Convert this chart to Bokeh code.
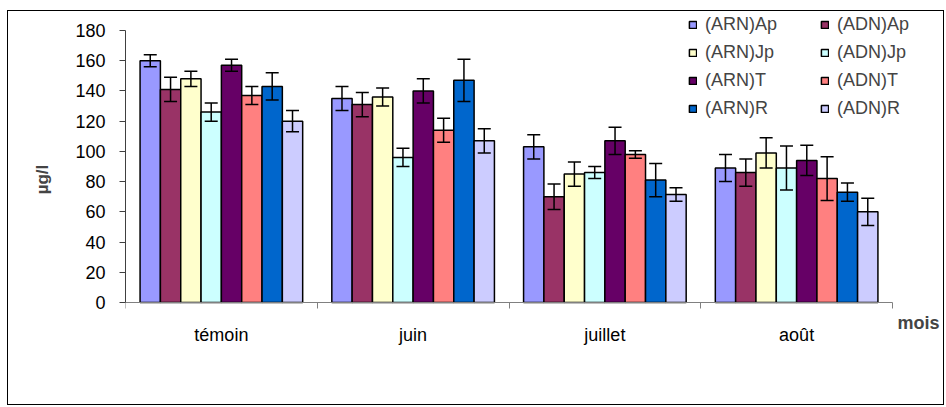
from bokeh.plotting import figure
from bokeh.models import (ColumnDataSource, Range1d, FixedTicker, Legend, LegendItem,
                          Whisker, TeeHead, Label)
from bokeh.embed import file_html
from bokeh.resources import INLINE

# ---------------- data ----------------
months = ["témoin", "juin", "juillet", "août"]
series = ["(ARN)Ap", "(ADN)Ap", "(ARN)Jp", "(ADN)Jp", "(ARN)T", "(ADN)T", "(ARN)R", "(ADN)R"]
colors = ["#9999FF", "#993366", "#FFFFCC", "#CCFFFF", "#660066", "#FF8080", "#0066CC", "#CCCCFF"]

arn_ap = [160, 135, 103, 89]
adn_ap = [141, 131, 70, 86]
arn_jp = [148, 136, 85, 99]
adn_jp = [126, 96, 86, 89]
arn_t = [157, 140, 107, 94]
adn_t = [137, 114, 98, 82]
arn_r = [143, 147, 81, 73]
adn_r = [120, 107, 71.5, 60]

err_arn_ap = [4, 8, 8, 9]
err_adn_ap = [8, 8, 8.5, 9]
err_arn_jp = [5, 6, 8, 10]
err_adn_jp = [6, 6, 4, 14.5]
err_arn_t = [4, 8, 9, 10]
err_adn_t = [6, 8, 2.5, 14.5]
err_arn_r = [9, 14, 11, 6]
err_adn_r = [7, 8, 4.5, 9]

y_ticks = [0, 20, 40, 60, 80, 100, 120, 140, 160, 180]
y_max = 180

values = [arn_ap, adn_ap, arn_jp, adn_jp, arn_t, adn_t, arn_r, adn_r]
errors = [err_arn_ap, err_adn_ap, err_arn_jp, err_adn_jp, err_arn_t, err_adn_t, err_arn_r, err_adn_r]

# ---------------- layout (page pixels) ----------------
FONT = "Liberation Sans"
AX_LEFT, AX_RIGHT = 125, 892      # x of category 0 start and last category end
AX_TOP, AX_BOTTOM = 30, 302       # y of 180 and 0
FRAME_TOP, FRAME_BOTTOM, FRAME_RIGHT = 12, 346, 945
ppx = (AX_RIGHT - AX_LEFT) / len(months)
ppy = (AX_BOTTOM - AX_TOP) / y_max

p = figure(width=937, height=395, output_backend="svg", toolbar_location=None,
           x_range=Range1d(0, (FRAME_RIGHT - AX_LEFT) / ppx),
           y_range=Range1d(-(FRAME_BOTTOM - AX_BOTTOM) / ppy, (AX_BOTTOM - FRAME_TOP) / ppy),
           min_border_left=117, min_border_right=0, min_border_top=1, min_border_bottom=60)
p.styles = {"border": "1px solid black", "margin-top": "10px", "margin-left": "7px"}
p.outline_line_color = None
p.xgrid.grid_line_color = None
p.ygrid.grid_line_color = None

bar_w = 0.106
n = len(series)
items = []
for j, (name, col, vals, errs) in enumerate(zip(series, colors, values, errors)):
    xs = [i + 0.5 + (j - (n - 1) / 2) * bar_w for i in range(len(months))]
    src = ColumnDataSource(dict(x=xs, top=vals,
                                upper=[v + e for v, e in zip(vals, errs)],
                                lower=[v - e for v, e in zip(vals, errs)]))
    r = p.vbar(x="x", top="top", width=bar_w, bottom=0, source=src,
               fill_color=col, line_color="black", line_width=1.5)
    w = Whisker(base="x", upper="upper", lower="lower", source=src, dimension="height",
                line_color="black", line_width=1.5, level="annotation",
                upper_head=TeeHead(size=13, line_color="black", line_width=1.5),
                lower_head=TeeHead(size=13, line_color="black", line_width=1.5))
    p.add_layout(w)
    items.append(LegendItem(label=name, renderers=[r]))

# x axis (drawn at y = 0)
p.xaxis.fixed_location = 0
p.xaxis.bounds = (0, len(months))
p.xaxis.ticker = FixedTicker(ticks=[i + 0.5 for i in range(len(months))],
                             minor_ticks=list(range(len(months) + 1)))
p.xaxis.major_label_overrides = {i + 0.5: m for i, m in enumerate(months)}
p.xaxis.major_tick_line_color = None
p.xaxis.minor_tick_line_color = "#808080"
p.xaxis.minor_tick_out = 6
p.xaxis.minor_tick_in = 0
p.xaxis.axis_line_color = "#808080"
p.xaxis.major_label_text_font = FONT
p.xaxis.major_label_text_font_size = "18px"
p.xaxis.major_label_text_color = "black"
p.xaxis.major_label_standoff = 16

# y axis
p.yaxis.bounds = (0, y_max)
p.yaxis.ticker = FixedTicker(ticks=y_ticks, minor_ticks=[])
p.yaxis.major_tick_out = 6
p.yaxis.major_tick_in = 0
p.yaxis.axis_line_color = "#404040"
p.yaxis.major_tick_line_color = "#404040"
p.yaxis.major_label_text_font = FONT
p.yaxis.major_label_text_font_size = "18px"
p.yaxis.major_label_text_color = "black"
p.yaxis.major_label_standoff = 14
p.yaxis.axis_label = "µg/l"
p.yaxis.axis_label_text_font = FONT
p.yaxis.axis_label_text_font_size = "17px"
p.yaxis.axis_label_text_font_style = "bold"
p.yaxis.axis_label_standoff = 20

# "mois" label
p.add_layout(Label(x=(897 - AX_LEFT) / ppx, y=-(322 - AX_BOTTOM) / ppy, text="mois",
                   text_font=FONT, text_font_size="18px", text_font_style="bold",
                   text_baseline="middle", text_align="left"))

legend = Legend(items=items, location=(563, FRAME_BOTTOM - 119), orientation="horizontal", ncols=2,
                glyph_width=9, glyph_height=9, label_standoff=8, spacing=7,
                label_height=20, label_width=108, padding=0, margin=0,
                border_line_color=None, background_fill_alpha=0,
                label_text_font=FONT, label_text_font_size="18px")
p.add_layout(legend)

open("out.html", "w").write(file_html(p, INLINE))
